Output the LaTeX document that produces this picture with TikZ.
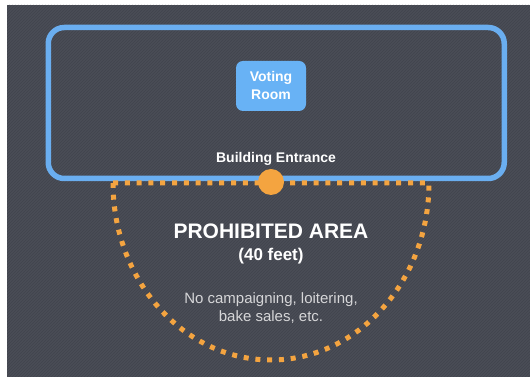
\documentclass[tikz,border=0pt]{standalone}
\usepackage{fontspec}
\setmainfont{Liberation Sans}
\usepackage{tikz}
\usetikzlibrary{patterns}
\definecolor{slate}{RGB}{74,77,87}
\definecolor{wallblue}{RGB}{106,174,240}
\definecolor{roomblue}{RGB}{104,178,245}
\definecolor{zoneor}{RGB}{244,164,64}
\definecolor{softgray}{RGB}{214,214,216}
\tikzstyle{building} = [rectangle, rounded corners=16pt, minimum width=456pt, minimum height=151pt, draw=wallblue, line width=5.5pt, inner sep=0pt]
\tikzstyle{room} = [rectangle, rounded corners=7pt, minimum width=70pt, minimum height=50pt, fill=roomblue, text=white, font=\fontsize{14}{18}\selectfont\bfseries, align=center, inner sep=0pt]
\tikzstyle{caption} = [text=white, font=\fontsize{14}{17}\selectfont\bfseries, inner sep=0pt]
\tikzstyle{door} = [circle, fill=zoneor, minimum size=26pt, inner sep=0pt]
\tikzstyle{zone} = [draw=zoneor, line width=5pt, dash pattern=on 5pt off 6.8pt]

\begin{document}
\begin{tikzpicture}[x=1pt, y=1pt]
	\useasboundingbox (0,0) rectangle (530,377);
	\fill[slate] (7,0) rectangle (530,372);
	\fill[pattern=north east lines, pattern color=black, opacity=0.12] (7,0) rectangle (530,372);

	\node (hall) [building] at (276.25,274) {};
	\node (voting) [room] at (271,291) {Voting\\Room};
	\node (entrance) [caption] at (276,218) {Building Entrance};

	% prohibited zone in front of the entrance
	\coordinate (zoneL) at (113,194);
	\coordinate (zoneR) at (429,194);
	\draw [zone] (zoneL) -- (zoneR) arc[start angle=0, end angle=-180, x radius=158pt, y radius=177pt];
	\node (door) [door] at (271,195) {};

	\node (area) [text=white, font=\fontsize{21}{24}\selectfont\bfseries, inner sep=0pt] at (271,146) {PROHIBITED AREA};
	\node (feet) [text=white, font=\fontsize{17}{20}\selectfont\bfseries, inner sep=0pt] at (271,121) {(40 feet)};
	\node (rules) [text=softgray, font=\fontsize{15}{18.5}\selectfont, align=center, inner sep=0pt] at (271,69) {No campaigning, loitering,\\bake sales, etc.};
\end{tikzpicture}
\end{document}
